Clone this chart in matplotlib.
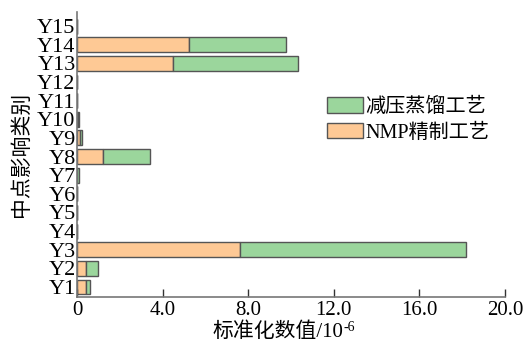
import matplotlib
matplotlib.use("Agg")
import matplotlib.pyplot as plt
import numpy as np

plt.rcParams['font.family'] = ['Liberation Serif', 'Noto Sans CJK SC']

# data
categories = ['Y1', 'Y2', 'Y3', 'Y4', 'Y5', 'Y6', 'Y7', 'Y8',
              'Y9', 'Y10', 'Y11', 'Y12', 'Y13', 'Y14', 'Y15']
nmp_values = [0.42, 0.40, 7.62, 0.0, 0.0, 0.01, 0.02, 1.20,
              0.12, 0.05, 0.0, 0.0, 4.48, 5.23, 0.0]
vac_values = [0.18, 0.60, 10.58, 0.0, 0.0, 0.01, 0.06, 2.23,
              0.13, 0.05, 0.0, 0.0, 5.84, 4.52, 0.0]
x_ticks = [0, 4, 8, 12, 16, 20]
x_tick_labels = ['0', '4.0', '8.0', '12.0', '16.0', '20.0']

orange = '#FEC995'
green = '#9BD69C'
edge = '#555555'

fig = plt.figure(figsize=(5.27, 3.47), dpi=100)
ax = fig.add_axes([0.146, 0.144, 0.812, 0.821])

y = np.arange(len(categories))
ax.barh(y, nmp_values, height=0.8, color=orange, edgecolor=edge,
        linewidth=1.0, label='NMP精制工艺')
ax.barh(y, vac_values, left=nmp_values, height=0.8, color=green,
        edgecolor=edge, linewidth=1.0, label='减压蒸馏工艺')

ax.set_xlim(0, 20)
ax.set_ylim(-0.54, 14.75)
ax.set_xticks(x_ticks)
ax.set_xticklabels(x_tick_labels, fontsize=15)
ax.set_yticks(y)
ax.set_yticklabels(categories, fontsize=16)
ax.tick_params(axis='x', direction='in', length=6, width=1, color='#333333', pad=3)
ax.tick_params(axis='y', length=0, pad=1)

for s in ['top', 'right']:
    ax.spines[s].set_visible(False)
for s in ['left', 'bottom']:
    ax.spines[s].set_color('#777777')
    ax.spines[s].set_linewidth(1.2)

# x label with a separate superscript (mathtext has no CJK glyphs)
xl = ax.set_xlabel('标准化数值/10', fontsize=15, labelpad=1.5)
xl.set_x(0.47)
ax.set_ylabel('中点影响类别', fontsize=15, labelpad=4)

handles, labels = ax.get_legend_handles_labels()
ax.legend(handles[::-1], labels[::-1], loc='upper left',
          bbox_to_anchor=(0.565, 0.73), frameon=False, fontsize=14.5,
          handlelength=1.8, handleheight=0.8, handletextpad=0.1,
          labelspacing=0.3, borderaxespad=0)

fig.canvas.draw()
bb = xl.get_window_extent()
w, h = fig.bbox.width, fig.bbox.height
fig.text(bb.x1 / w, (bb.y1 + 1) / h, '-6', fontsize=10, ha='left', va='top')

fig.savefig('out.png', dpi=100)
